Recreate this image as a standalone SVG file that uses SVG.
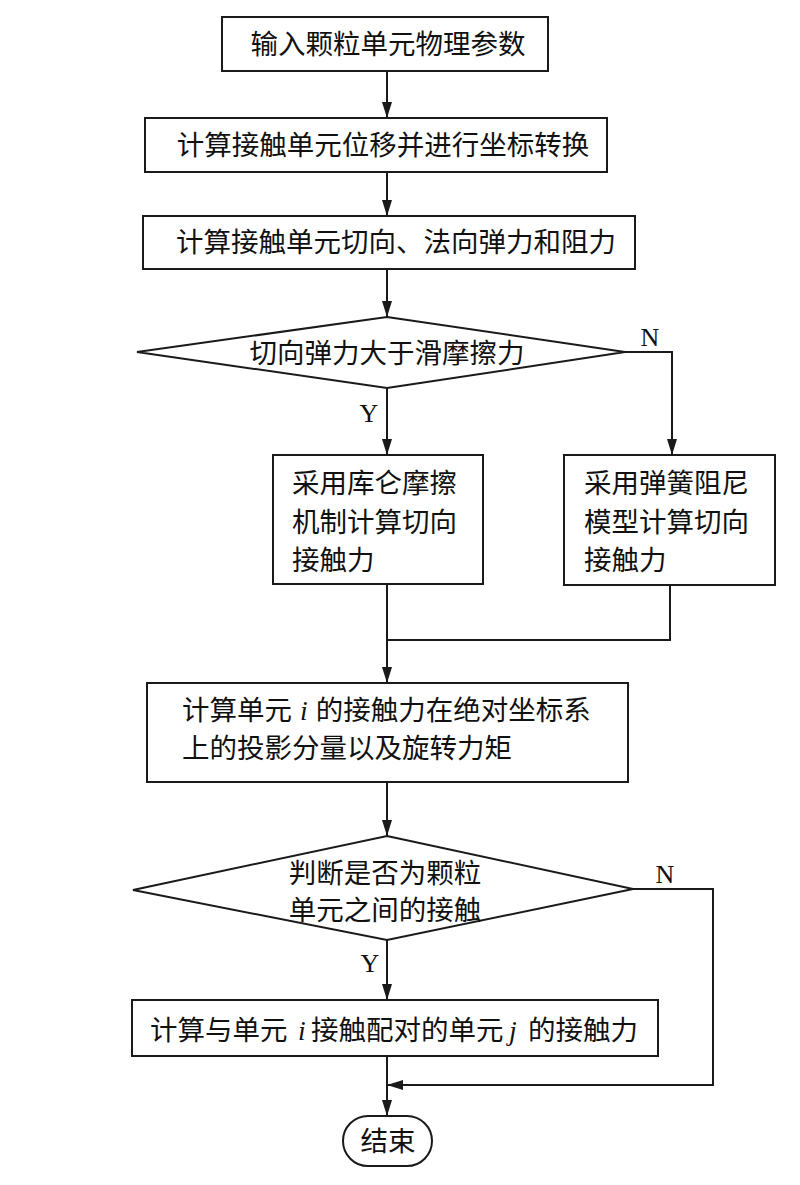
<svg xmlns="http://www.w3.org/2000/svg" width="800" height="1185" viewBox="0 0 800 1185">
<style>
.box{fill:#fff;stroke:#1a1a1a;stroke-width:2}
.ln{fill:none;stroke:#1a1a1a;stroke-width:2}
.t{font-family:"Noto Sans CJK SC","Noto Sans CJK JP",sans-serif;font-size:27.5px;fill:#111}
.c{text-anchor:middle}
.lat{font-family:"Liberation Serif",serif;font-size:26px;fill:#111}
.it{font-family:"Liberation Serif",serif;font-style:italic}
</style>
<defs>
<marker id="ah" markerUnits="userSpaceOnUse" markerWidth="16" markerHeight="10" refX="16" refY="5" orient="auto">
<path d="M0,0 L16,5 L0,10 z" fill="#1a1a1a"/>
</marker>
</defs>
<rect width="800" height="1185" fill="#fff"/>
<g id="connectors">
<line class="ln" x1="387" y1="71" x2="387" y2="118" marker-end="url(#ah)"/>
<line class="ln" x1="387" y1="172" x2="387" y2="216" marker-end="url(#ah)"/>
<line class="ln" x1="387" y1="269" x2="387" y2="317" marker-end="url(#ah)"/>
<line class="ln" x1="387" y1="388" x2="387" y2="455" marker-end="url(#ah)"/>
<polyline class="ln" points="625,352 672,352 672,455" marker-end="url(#ah)"/>
<line class="ln" x1="387" y1="584" x2="387" y2="683" marker-end="url(#ah)"/>
<polyline class="ln" points="670,585 670,640 387,640"/>
<line class="ln" x1="387" y1="782" x2="387" y2="836" marker-end="url(#ah)"/>
<line class="ln" x1="387" y1="940" x2="387" y2="1000" marker-end="url(#ah)"/>
<line class="ln" x1="387" y1="1056" x2="387" y2="1116" marker-end="url(#ah)"/>
<polyline class="ln" points="633,889 713,889 713,1085 387,1085" marker-end="url(#ah)"/>
<text class="lat" x="650" y="346" text-anchor="middle">N</text>
<text class="lat" x="369" y="422" text-anchor="middle">Y</text>
<text class="lat" x="665" y="883" text-anchor="middle">N</text>
<text class="lat" x="370" y="972" text-anchor="middle">Y</text>
</g>
<g id="n1">
<rect class="box" x="222" y="17" width="326" height="54"/>
<text class="t c" x="388" y="54">输入颗粒单元物理参数</text>
</g>
<g id="n2">
<rect class="box" x="145" y="118" width="462" height="54"/>
<text class="t c" x="383" y="155">计算接触单元位移并进行坐标转换</text>
</g>
<g id="n3">
<rect class="box" x="143" y="216" width="492" height="53"/>
<text class="t c" x="396" y="252">计算接触单元切向、法向弹力和阻力</text>
</g>
<g id="d1">
<polygon class="box" points="387,317 625,352 387,388 137,352"/>
<text class="t c" x="387" y="363">切向弹力大于滑摩擦力</text>
</g>
<g id="n4">
<rect class="box" x="273" y="455" width="210" height="129"/>
<text class="t" x="292" y="493">采用库仑摩擦</text>
<text class="t" x="292" y="532">机制计算切向</text>
<text class="t" x="292" y="570">接触力</text>
</g>
<g id="n5">
<rect class="box" x="564" y="455" width="211" height="130"/>
<text class="t" x="584" y="493">采用弹簧阻尼</text>
<text class="t" x="584" y="532">模型计算切向</text>
<text class="t" x="584" y="570">接触力</text>
</g>
<g id="n6">
<rect class="box" x="147" y="683" width="481" height="99"/>
<text class="t" x="182" y="720">计算单元<tspan class="it" dx="8">i</tspan><tspan dx="8">的接触力在绝对坐标系</tspan></text>
<text class="t" x="182" y="758">上的投影分量以及旋转力矩</text>
</g>
<g id="d2">
<polygon class="box" points="387,836 633,889 387,940 133,890"/>
<text class="t c" x="385" y="883">判断是否为颗粒</text>
<text class="t c" x="385" y="920">单元之间的接触</text>
</g>
<g id="n7">
<rect class="box" x="132" y="1000" width="526" height="56"/>
<text class="t" x="150" y="1040">计算与单元</text>
<text class="t it" x="298" y="1040">i</text>
<text class="t" x="311" y="1040">接触配对的单元</text>
<text class="t it" x="509" y="1040">j</text>
<text class="t" x="528" y="1040">的接触力</text>
</g>
<g id="end">
<rect class="box" x="343" y="1116" width="89" height="50" rx="25" ry="25"/>
<text class="t c" x="388" y="1151">结束</text>
</g>
</svg>
